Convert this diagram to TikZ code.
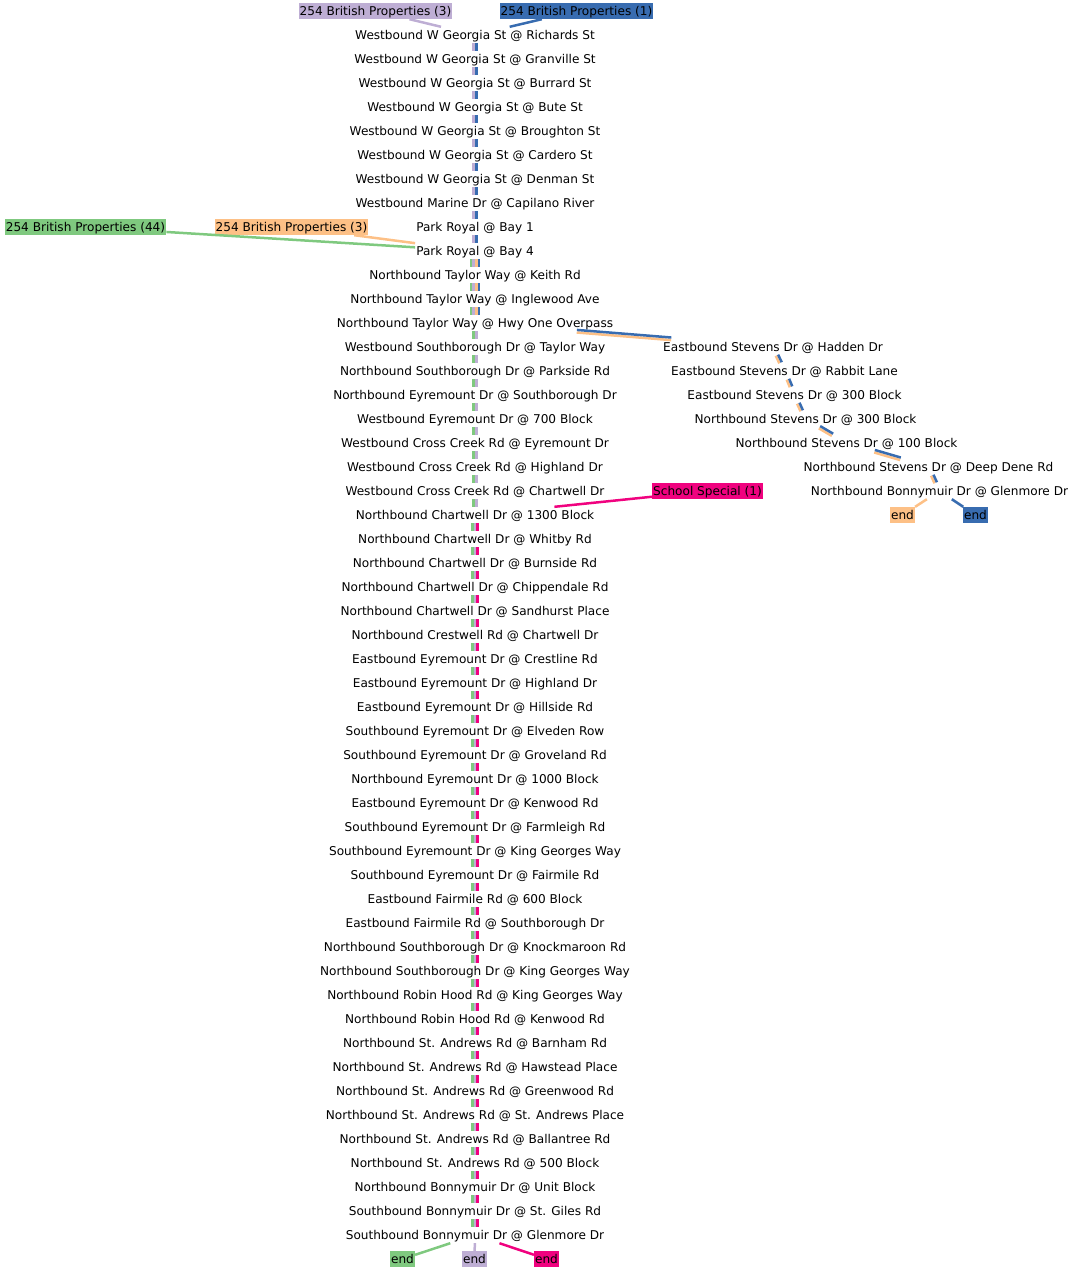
\documentclass[tikz,border=0pt]{standalone}
\usepackage{fontspec}
\setmainfont{DejaVu Sans}
\definecolor{cgreen}{HTML}{7FC97F}
\definecolor{cpurple}{HTML}{BEAED4}
\definecolor{corange}{HTML}{FDC086}
\definecolor{cblue}{HTML}{386CB0}
\definecolor{cpink}{HTML}{F0027F}
\newdimen\pax \newdimen\pay \newdimen\pbx \newdimen\pby
% #1 from, #2 to, #3 number of lines, #4 colours (first = right of travel)
\newcommand\pedge[4]{%
  \pgfextractx{\pax}{\pgfpointanchor{#1}{center}}%
  \pgfextracty{\pay}{\pgfpointanchor{#1}{center}}%
  \pgfextractx{\pbx}{\pgfpointanchor{#2}{center}}%
  \pgfextracty{\pby}{\pgfpointanchor{#2}{center}}%
  \pgfmathsetmacro\pdx{\pbx-\pax}%
  \pgfmathsetmacro\pdy{\pby-\pay}%
  \pgfmathsetmacro\plen{veclen(\pdx,\pdy)}%
  \pgfmathsetmacro\pux{-\pdy/\plen}%
  \pgfmathsetmacro\puy{\pdx/\plen}%
  \foreach \c [count=\k] in {#4} {%
    \pgfmathsetmacro\po{(\k-(#3+1)/2)*2.6}%
    \pgfmathsetmacro\ox{\po*\pux}%
    \pgfmathsetmacro\oy{\po*\puy}%
    \draw[route, \c, transform canvas={xshift=\ox pt, yshift=\oy pt}] (#1) -- (#2);
  }%
}
\begin{document}
\begin{tikzpicture}[x=1pt, y=-1pt,
  font=\fontsize{12.1}{14}\selectfont,
  stop/.style={inner xsep=1pt, inner ysep=0pt, minimum height=16pt, text height=10pt, text depth=2pt},
  lbl/.style={stop, fill=#1},
  route/.style={line width=2.5pt}]
\useasboundingbox (0,0) rectangle (1073,1272);

% main column
\foreach \t [count=\i from 0] in {
  Westbound W Georgia St @ Richards St,
  Westbound W Georgia St @ Granville St,
  Westbound W Georgia St @ Burrard St,
  Westbound W Georgia St @ Bute St,
  Westbound W Georgia St @ Broughton St,
  Westbound W Georgia St @ Cardero St,
  Westbound W Georgia St @ Denman St,
  Westbound Marine Dr @ Capilano River,
  Park Royal @ Bay 1,
  Park Royal @ Bay 4,
  Northbound Taylor Way @ Keith Rd,
  Northbound Taylor Way @ Inglewood Ave,
  Northbound Taylor Way @ Hwy One Overpass,
  Westbound Southborough Dr @ Taylor Way,
  Northbound Southborough Dr @ Parkside Rd,
  Northbound Eyremount Dr @ Southborough Dr,
  Westbound Eyremount Dr @ 700 Block,
  Westbound Cross Creek Rd @ Eyremount Dr,
  Westbound Cross Creek Rd @ Highland Dr,
  Westbound Cross Creek Rd @ Chartwell Dr,
  Northbound Chartwell Dr @ 1300 Block,
  Northbound Chartwell Dr @ Whitby Rd,
  Northbound Chartwell Dr @ Burnside Rd,
  Northbound Chartwell Dr @ Chippendale Rd,
  Northbound Chartwell Dr @ Sandhurst Place,
  Northbound Crestwell Rd @ Chartwell Dr,
  Eastbound Eyremount Dr @ Crestline Rd,
  Eastbound Eyremount Dr @ Highland Dr,
  Eastbound Eyremount Dr @ Hillside Rd,
  Southbound Eyremount Dr @ Elveden Row,
  Southbound Eyremount Dr @ Groveland Rd,
  Northbound Eyremount Dr @ 1000 Block,
  Eastbound Eyremount Dr @ Kenwood Rd,
  Southbound Eyremount Dr @ Farmleigh Rd,
  Southbound Eyremount Dr @ King Georges Way,
  Southbound Eyremount Dr @ Fairmile Rd,
  Eastbound Fairmile Rd @ 600 Block,
  Eastbound Fairmile Rd @ Southborough Dr,
  Northbound Southborough Dr @ Knockmaroon Rd,
  Northbound Southborough Dr @ King Georges Way,
  Northbound Robin Hood Rd @ King Georges Way,
  Northbound Robin Hood Rd @ Kenwood Rd,
  Northbound St. Andrews Rd @ Barnham Rd,
  Northbound St. Andrews Rd @ Hawstead Place,
  Northbound St. Andrews Rd @ Greenwood Rd,
  Northbound St. Andrews Rd @ St. Andrews Place,
  Northbound St. Andrews Rd @ Ballantree Rd,
  Northbound St. Andrews Rd @ 500 Block,
  Northbound Bonnymuir Dr @ Unit Block,
  Southbound Bonnymuir Dr @ St. Giles Rd,
  Southbound Bonnymuir Dr @ Glenmore Dr}
  \node[stop] (n\i) at (475, 35+24*\i) {\t};

% right column
\node[stop] (r0) at (773,347) {Eastbound Stevens Dr @ Hadden Dr};
\node[stop] (r1) at (784.5,371) {Eastbound Stevens Dr @ Rabbit Lane};
\node[stop] (r2) at (794.5,395) {Eastbound Stevens Dr @ 300 Block};
\node[stop] (r3) at (805.5,419) {Northbound Stevens Dr @ 300 Block};
\node[stop] (r4) at (846.5,443) {Northbound Stevens Dr @ 100 Block};
\node[stop] (r5) at (928.5,467) {Northbound Stevens Dr @ Deep Dene Rd};
\node[stop] (r6) at (939.5,491) {Northbound Bonnymuir Dr @ Glenmore Dr};

% sources
\node[lbl=cpurple] (sp) at (375.5,11) {254 British Properties (3)};
\node[lbl=cblue] (sb) at (576.5,11) {254 British Properties (1)};
\node[lbl=cgreen] (sg) at (85.5,227) {254 British Properties (44)};
\node[lbl=corange] (so) at (291.5,227) {254 British Properties (3)};
\node[lbl=cpink] (ss) at (707.5,491) {School Special (1)};

% ends
\node[lbl=cgreen] (eg) at (402.5,1259) {end};
\node[lbl=cpurple] (ep) at (474.5,1259) {end};
\node[lbl=cpink] (ek) at (546.5,1259) {end};
\node[lbl=corange] (eo) at (902.5,515) {end};
\node[lbl=cblue] (eb) at (975.5,515) {end};

% connectors
\pedge{sp}{n0}{1}{cpurple}
\pedge{sb}{n0}{1}{cblue}
\pedge{sg}{n9}{1}{cgreen}
\pedge{so}{n9}{1}{corange}
\pedge{ss}{n20}{1}{cpink}
\foreach \i [evaluate=\i as \j using int(\i+1)] in {0,...,8}
  {\pedge{n\i}{n\j}{2}{cpurple,cblue}}
\foreach \i [evaluate=\i as \j using int(\i+1)] in {9,10,11}
  {\pedge{n\i}{n\j}{4}{cgreen,cpurple,corange,cblue}}
\foreach \i [evaluate=\i as \j using int(\i+1)] in {12,...,19}
  {\pedge{n\i}{n\j}{2}{cgreen,cpurple}}
\foreach \i [evaluate=\i as \j using int(\i+1)] in {20,...,49}
  {\pedge{n\i}{n\j}{3}{cgreen,cpurple,cpink}}
\pedge{n12}{r0}{2}{corange,cblue}
\foreach \i [evaluate=\i as \j using int(\i+1)] in {0,...,5}
  {\pedge{r\i}{r\j}{2}{corange,cblue}}
\pedge{r6}{eo}{1}{corange}
\pedge{r6}{eb}{1}{cblue}
\pedge{n50}{eg}{1}{cgreen}
\pedge{n50}{ep}{1}{cpurple}
\pedge{n50}{ek}{1}{cpink}
\end{tikzpicture}
\end{document}
